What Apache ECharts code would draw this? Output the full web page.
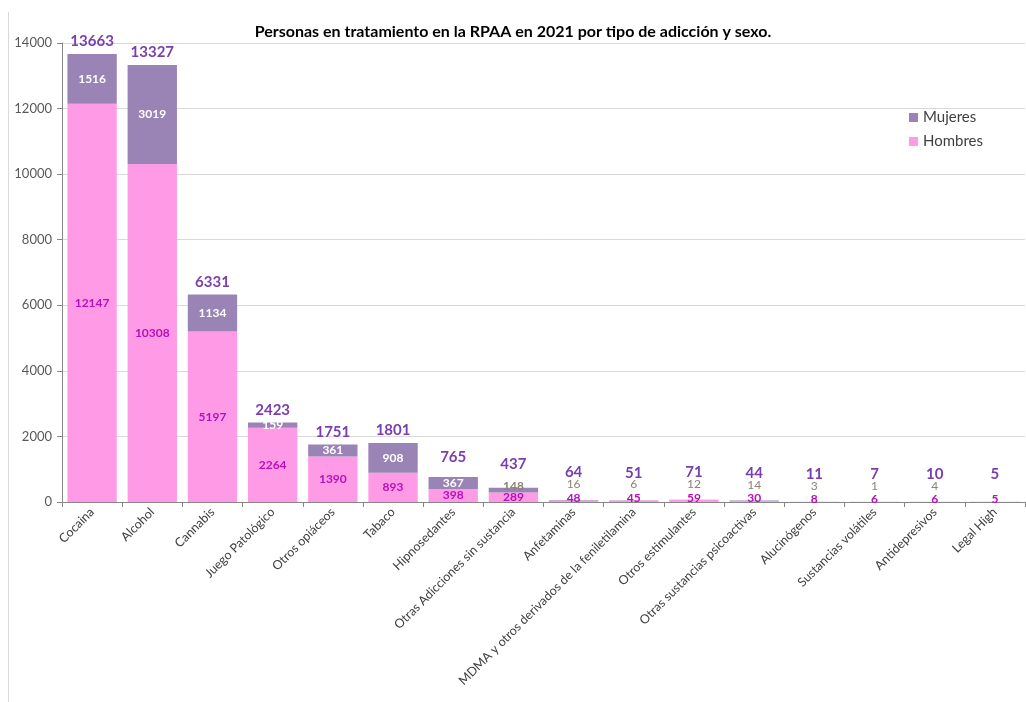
<!DOCTYPE html>
<html>
<head>
<meta charset="utf-8">
<script src="https://cdn.jsdelivr.net/npm/echarts@6/dist/echarts.min.js"></script>
<style>
  html, body { margin: 0; padding: 0; background: #fff; }
  #chart { width: 1026px; height: 702px; }
</style>
</head>
<body>
<div id="chart"></div>
<script>
// categorias (tipo de adiccion)
const categories = [
  'Cocaina', 'Alcohol', 'Cannabis', 'Juego Patológico', 'Otros opiáceos', 'Tabaco',
  'Hipnosedantes', 'Otras Adicciones sin sustancia', 'Anfetaminas',
  'MDMA y otros derivados de la feniletilamina', 'Otros estimulantes',
  'Otras sustancias psicoactivas', 'Alucinógenos', 'Sustancias volátiles',
  'Antidepresivos', 'Legal High'
]
const hombres = [12147, 10308, 5197, 2264, 1390, 893, 398, 289, 48, 45, 59, 30, 8, 6, 6, 5]
const mujeres = [1516, 3019, 1134, 159, 361, 908, 367, 148, 16, 6, 12, 14, 3, 1, 4, 0]
const totales = [13663, 13327, 6331, 2423, 1751, 1801, 765, 437, 64, 51, 71, 44, 11, 7, 10, 5]

const font = 'Lato, "Open Sans", sans-serif'

// etiquetas de hombres: las barras muy pequenas llevan la etiqueta un poco mas arriba
const hombresData = hombres.map(v => {
  if (v < 100) return { value: v, label: { offset: [0, -3] } }
  return v
})

// etiquetas de mujeres: blancas dentro, grises si la barra es pequena
const mujeresData = mujeres.map(v => {
  if (v === 0) return { value: v, label: { show: false } }
  if (v < 100) return { value: v, label: { color: '#8c8471', fontWeight: 'normal', offset: [0, -16] } }
  if (v < 150) return { value: v, label: { color: '#8c8471', offset: [0, -4] } }
  return v
})

// totales encima de la pila
const totalesData = totales.map(v => {
  let d = 5
  if (v < 100) d = 20
  else if (v < 500) d = 16
  else if (v < 1000) d = 12
  return { value: v, label: { distance: d } }
})

const chart = echarts.init(document.getElementById('chart'))
chart.setOption({
  animation: false,
  textStyle: { fontFamily: font },
  title: {
    text: 'Personas en tratamiento en la RPAA en 2021 por tipo de adicción y sexo.',
    left: 'center',
    top: 19,
    textStyle: { fontFamily: font, fontSize: 16, fontWeight: 'bold', color: '#000' }
  },
  legend: {
    orient: 'vertical',
    right: 38,
    top: 105,
    itemWidth: 9,
    itemHeight: 9,
    itemGap: 9,
    icon: 'rect',
    data: ['Mujeres', 'Hombres'],
    textStyle: { fontFamily: font, fontSize: 15, color: '#404040' }
  },
  graphic: [
    {
      type: 'line',
      shape: { x1: 8.5, y1: 12, x2: 8.5, y2: 702 },
      style: { stroke: '#d9d9d9', lineWidth: 1 }
    }
  ],
  grid: { left: 62, right: 1, top: 43, bottom: 200, containLabel: false },
  xAxis: {
    type: 'category',
    data: categories,
    axisLine: { lineStyle: { color: '#868686' } },
    axisTick: { show: true, length: 5, lineStyle: { color: '#868686' } },
    axisLabel: {
      interval: 0,
      rotate: 45,
      margin: 8,
      fontFamily: font,
      fontSize: 12.5,
      color: '#404040'
    }
  },
  yAxis: {
    type: 'value',
    min: 0,
    max: 14000,
    interval: 2000,
    axisLine: { show: true, lineStyle: { color: '#868686' } },
    axisTick: { show: true, length: 5, lineStyle: { color: '#868686' } },
    axisLabel: {
      fontFamily: font,
      fontSize: 13,
      color: '#595959',
      margin: 10,
      formatter: v => String(v)
    },
    splitLine: { lineStyle: { color: '#d9d9d9' } }
  },
  series: [
    {
      name: 'Hombres',
      type: 'bar',
      stack: 'sexo',
      barCategoryGap: '18%',
      data: hombresData,
      itemStyle: { color: '#ff9be6' },
      label: {
        show: true,
        position: 'inside',
        fontFamily: font,
        fontSize: 12,
        fontWeight: 'bold',
        color: '#b80fb8'
      }
    },
    {
      name: 'Mujeres',
      type: 'bar',
      stack: 'sexo',
      data: mujeresData,
      itemStyle: { color: '#9a83b5' },
      label: {
        show: true,
        position: 'inside',
        fontFamily: font,
        fontSize: 12,
        fontWeight: 'bold',
        color: '#ffffff'
      }
    },
    {
      name: 'Total',
      type: 'bar',
      barGap: '-100%',
      silent: true,
      data: totalesData,
      itemStyle: { color: 'rgba(0,0,0,0)' },
      label: {
        show: true,
        position: 'top',
        fontFamily: font,
        fontSize: 15,
        fontWeight: 'bold',
        color: '#7a3fae'
      },
      z: 1
    }
  ]
})
</script>
</body>
</html>
